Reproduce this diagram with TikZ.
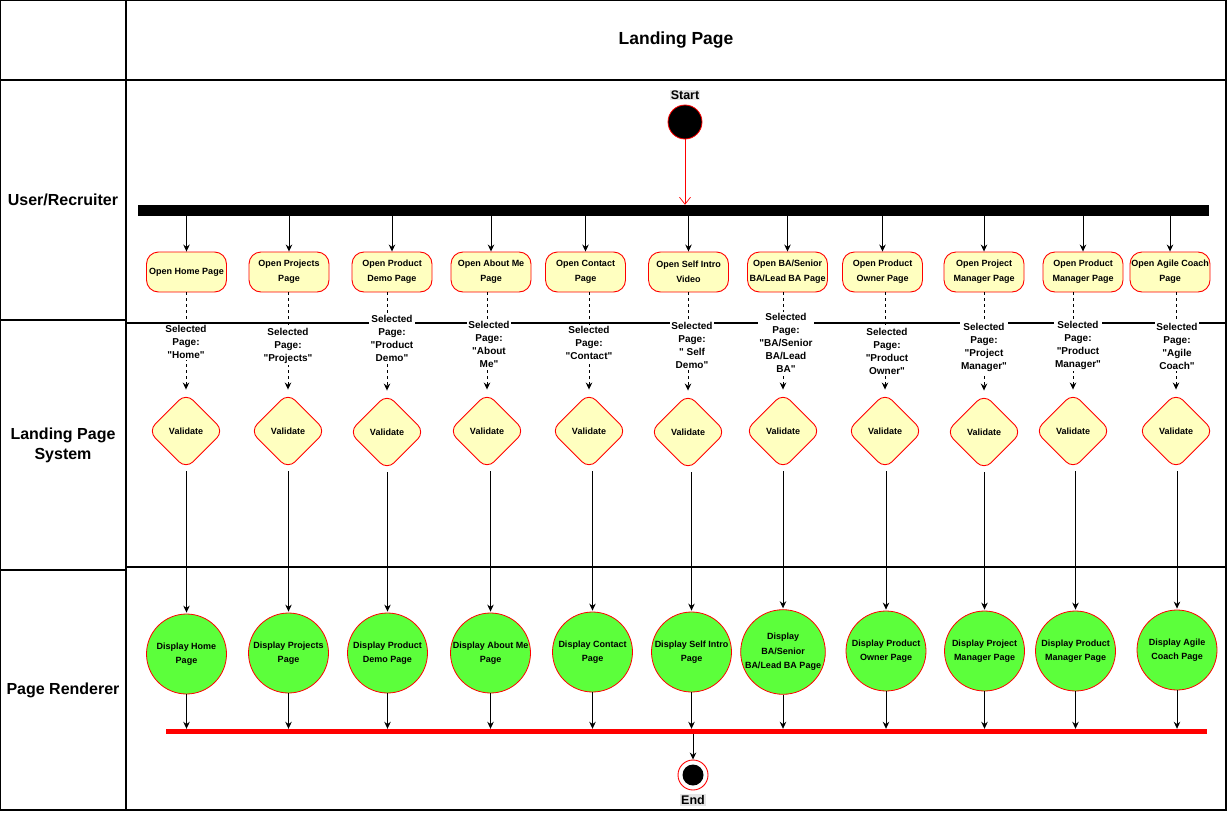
\documentclass[tikz,border=0pt]{standalone}
\usepackage{fontspec}
\setmainfont{Liberation Sans}
\newfontfamily\lsans{Liberation Sans}
\usetikzlibrary{shapes.geometric,arrows.meta}
\definecolor{boxyellow}{HTML}{FFFFC0}
\definecolor{dispgreen}{HTML}{5CFF3B}
\definecolor{lblgray}{HTML}{E6E6E6}
\begin{document}
\begin{tikzpicture}[x=1pt,y=-1pt,
  frame/.style={line width=1.2pt},
  actbox/.style={draw=red, fill=boxyellow, rounded corners=12pt, minimum width=80pt, minimum height=40pt, inner sep=1pt, align=center, font=\fontsize{9}{15}\selectfont\bfseries, line width=0.9pt},
  valdia/.style={diamond, draw=red, fill=boxyellow, rounded corners=10pt, minimum width=76pt, minimum height=76pt, inner sep=0pt, font=\fontsize{9}{11}\selectfont\bfseries, line width=0.9pt},
  dispcirc/.style={circle, draw=red, fill=dispgreen, minimum size=80pt, inner sep=0pt, align=center, font=\fontsize{9}{14.5}\selectfont\bfseries, line width=0.8pt},
  sellbl/.style={fill=white, inner sep=1.5pt, align=center, font=\lsans\fontsize{10}{13}\selectfont\bfseries},
  lanelbl/.style={align=center, font=\fontsize{16}{20}\selectfont\bfseries},
  endlbl/.style={fill=lblgray, inner sep=1pt, font=\fontsize{12.5}{14}\selectfont\bfseries},
  arr/.style={-{Stealth[length=7pt,width=6.5pt]}, line width=0.9pt},
  darr/.style={arr, dash pattern=on 3pt off 3pt}
]
\useasboundingbox (0,0) rectangle (1228,816);
% frame and lanes
\draw[frame] (0.6,0.6) rectangle (1226,810);
\draw[frame] (126,0.6) -- (126,810);
\draw[frame] (0.6,80) -- (1226,80);
\draw[frame] (0.6,320) -- (126,320);
\draw[frame] (126,323) -- (1226,323);
\draw[frame] (0.6,570) -- (126,570);
\draw[frame] (126,567) -- (1226,567);
% titles
\node[font=\fontsize{17.5}{20}\selectfont\bfseries] (title) at (676,40) {Landing Page};
\node[lanelbl] (lane1) at (63,200) {User/Recruiter};
\node[lanelbl] (lane2) at (63,445) {Landing Page\\System};
\node[lanelbl] (lane3) at (63,690) {Page Renderer};
% start
\node[endlbl] (startlbl) at (685,95) {Start};
\node[circle, draw=red, fill=black, minimum size=34pt, inner sep=0pt, line width=0.8pt] (start) at (685,122) {};
\node[fill=black, minimum width=1071pt, minimum height=11pt, inner sep=0pt] (fork) at (673.5,210.5) {};
\draw[red, line width=0.7pt, -{Straight Barb[length=7pt,width=11pt]}] (start.south) -- (start.south |- fork.north);
% action boxes
\node[actbox] (b1) at (186.5,272) {Open Home Page};
\node[actbox] (b2) at (289,272) {Open Projects\\Page};
\node[actbox] (b3) at (392,272) {Open Product\\Demo Page};
\node[actbox] (b4) at (491,272) {Open About Me\\Page};
\node[actbox] (b5) at (585.5,272) {Open Contact\\Page};
\node[actbox] (b6) at (688.5,272) {Open Self Intro\\Video};
\node[actbox] (b7) at (787.5,272) {Open BA/Senior\\BA/Lead BA Page};
\node[actbox] (b8) at (882.5,272) {Open Product\\Owner Page};
\node[actbox] (b9) at (984,272) {Open Project\\Manager Page};
\node[actbox] (b10) at (1083,272) {Open Product\\Manager Page};
\node[actbox] (b11) at (1170,272) {Open Agile Coach\\Page};
% diamonds
\node[valdia] (d1) at (186,431) {Validate};
\node[valdia] (d2) at (288,431) {Validate};
\node[valdia] (d3) at (387,432) {Validate};
\node[valdia] (d4) at (487,431) {Validate};
\node[valdia] (d5) at (589,431) {Validate};
\node[valdia] (d6) at (688,432) {Validate};
\node[valdia] (d7) at (783,431) {Validate};
\node[valdia] (d8) at (885,431) {Validate};
\node[valdia] (d9) at (984,432) {Validate};
\node[valdia] (d10) at (1073,431) {Validate};
\node[valdia] (d11) at (1176,431) {Validate};
% circles
\node[dispcirc] (c1) at (186.5,654) {Display Home\\Page};
\node[dispcirc] (c2) at (288.5,653) {Display Projects\\Page};
\node[dispcirc] (c3) at (387.5,653) {Display Product\\Demo Page};
\node[dispcirc] (c4) at (490.5,653) {Display About Me\\Page};
\node[dispcirc] (c5) at (592.5,652) {Display Contact\\Page};
\node[dispcirc] (c6) at (691.5,652) {Display Self Intro\\Page};
\node[dispcirc] (c7) at (783,652) {Display\\BA/Senior\\BA/Lead BA Page};
\node[dispcirc] (c8) at (886,651) {Display Product\\Owner Page};
\node[dispcirc] (c9) at (984.5,651) {Display Project\\Manager Page};
\node[dispcirc] (c10) at (1075.5,651) {Display Product\\Manager Page};
\node[dispcirc] (c11) at (1177,650) {Display Agile\\Coach Page};
% join bar and end
\node[fill=red, minimum width=1041pt, minimum height=5pt, inner sep=0pt] (join) at (686.5,731.5) {};
\node[circle, draw=red, fill=white, minimum size=30pt, inner sep=0pt, line width=0.9pt] (endc) at (693,775) {};
\node[circle, fill=black, minimum size=21pt, inner sep=0pt] (endin) at (693,775) {};
\node[endlbl] (endlblnode) at (693,800) {End};
\draw[arr] (join.south -| endc.north) -- (endc.north);
% connectors
\foreach \i in {1,...,11}{
  \draw[arr] (b\i.north |- fork.south) -- (b\i.north);
  \draw[darr, shorten >=3pt] (d\i.north |- b\i.south) -- (d\i.north);
  \draw[arr, shorten >=1pt] ([yshift=-2pt]c\i.north |- d\i.south) -- (c\i.north);
  \draw[arr] (c\i.south) -- (c\i.south |- join.north);
}
% selected page labels
\node[sellbl] (l1) at (186,342) {Selected\\Page:\\"Home"};
\node[sellbl] (l2) at (288,346) {Selected\\Page:\\"Projects"};
\node[sellbl] (l3) at (392,338) {Selected\\Page:\\"Product\\Demo"};
\node[sellbl] (l4) at (489,344) {Selected\\Page:\\"About\\Me"};
\node[sellbl] (l5) at (589,343) {Selected\\Page:\\"Contact"};
\node[sellbl] (l6) at (692,345) {Selected\\Page:\\"~Self\\Demo"};
\node[sellbl] (l7) at (786,343) {Selected\\Page:\\"BA/Senior\\BA/Lead\\BA"};
\node[sellbl] (l8) at (887,351) {Selected\\Page:\\"Product\\Owner"};
\node[sellbl] (l9) at (984,347) {Selected\\Page:\\"Project\\Manager"};
\node[sellbl] (l10) at (1078,345) {Selected\\Page:\\"Product\\Manager"};
\node[sellbl] (l11) at (1177,346) {Selected\\Page:\\"Agile\\Coach"};
\end{tikzpicture}
\end{document}
